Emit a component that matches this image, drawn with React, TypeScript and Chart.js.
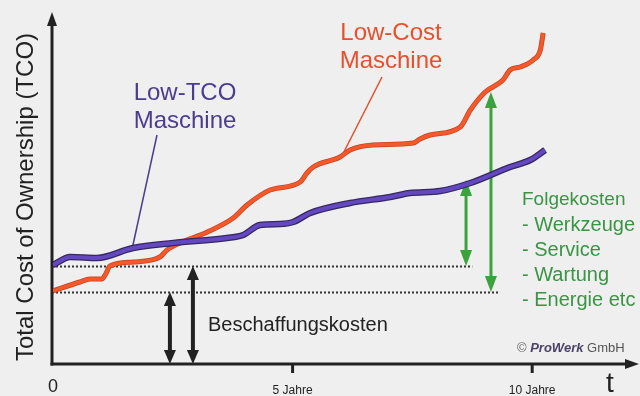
import React, { useEffect, useRef } from "react";
import { Chart, registerables } from "chart.js";

Chart.register(...registerables);

// Years (x) and Total Cost of Ownership (arbitrary units, y)
const lowTcoYears = [0, 0.36, 0.92, 1.67, 2.51, 3.63, 3.97, 4.32, 4.74, 5.01, 5.37, 6.2, 7.04, 7.45, 8.08, 8.71, 9.54, 9.96, 10.27];
const lowTcoValues = [100, 108, 107, 117, 122, 127, 130, 140, 141, 143, 152, 162, 168, 172, 174, 182, 198, 205, 215];

const lowCostYears = [0, 0.56, 0.77, 1.02, 1.1, 1.19, 1.67, 2.23, 2.38, 2.65, 3.22, 3.76, 4.05, 4.53, 5.16, 5.3, 5.43, 5.99, 6.2, 6.68, 7.52, 7.66, 7.87, 8.5, 8.71, 9.02, 9.39, 9.54, 9.75, 10.02, 10.17, 10.23];
const lowCostValues = [74, 83, 86, 86, 91, 99, 103, 108, 115, 122, 133, 147, 160, 175, 183, 192, 198, 208, 215, 220, 222, 226, 230, 238, 255, 273, 285, 295, 298, 305, 315, 332];

// Acquisition cost levels and annotation positions
const acquisitionLowTco = 99;
const acquisitionLowCost = 73;
const blackArrowYears = [2.44, 2.92];
const greenArrowYears = [8.62, 9.14];
const greenArrowTops = [185, 273];
const dottedEndYears = [8.75, 9.33];

const xTickValues = [0, 5, 10];
const xTickLabels = ["0", "5 Jahre", "10 Jahre"];
const folgeLines = ["- Werkzeuge", "- Service", "- Wartung", "- Energie etc"];

const FONT = "'Liberation Sans', Arial, sans-serif";
const PURPLE = "#6448c2";
const PURPLE_DARK = "#35275f";
const PURPLE_TEXT = "#4c3c8e";
const ORANGE = "#f25a2b";
const ORANGE_DARK = "#c9421f";
const ORANGE_TEXT = "#e6502c";
const GREEN = "#3aa33c";
const GREEN_TEXT = "#3a9444";
const INK = "#222222";

function toPoints(xs: number[], ys: number[]) {
  return xs.map((x, i) => ({ x, y: ys[i] }));
}

function arrowHead(ctx: CanvasRenderingContext2D, x: number, tipY: number, dir: number, w: number, h: number, color: string) {
  ctx.fillStyle = color;
  ctx.beginPath();
  ctx.moveTo(x, tipY);
  ctx.lineTo(x - w / 2, tipY + dir * h);
  ctx.lineTo(x + w / 2, tipY + dir * h);
  ctx.closePath();
  ctx.fill();
}

function doubleArrow(ctx: CanvasRenderingContext2D, x: number, yTop: number, yBot: number, color: string, lw: number, hw: number, hh: number) {
  ctx.strokeStyle = color;
  ctx.lineWidth = lw;
  ctx.beginPath();
  ctx.moveTo(x, yTop + hh - 1);
  ctx.lineTo(x, yBot - hh + 1);
  ctx.stroke();
  arrowHead(ctx, x, yTop, 1, hw, hh, color);
  arrowHead(ctx, x, yBot, -1, hw, hh, color);
}

const decorPlugin = {
  id: "decor",
  beforeDraw(chart: any) {
    const { ctx, width, height } = chart;
    ctx.save();
    ctx.fillStyle = "#efefef";
    ctx.fillRect(0, 0, width, height);
    ctx.restore();
  },
  beforeDatasetsDraw(chart: any) {
    const { ctx } = chart;
    const xs = chart.scales.x;
    const ys = chart.scales.y;
    const x0 = xs.getPixelForValue(0) - 1;
    const yBase = ys.getPixelForValue(0) - 1;
    ctx.save();

    // dotted acquisition lines
    ctx.strokeStyle = "#333";
    ctx.lineWidth = 2;
    ctx.setLineDash([2, 2]);
    [acquisitionLowTco, acquisitionLowCost].forEach((lvl, i) => {
      const y = Math.round(ys.getPixelForValue(lvl)) + 0.5;
      ctx.beginPath();
      ctx.moveTo(x0, y);
      ctx.lineTo(xs.getPixelForValue(dottedEndYears[i]), y);
      ctx.stroke();
    });
    ctx.setLineDash([]);

    // leader lines
    ctx.lineWidth = 1.5;
    ctx.strokeStyle = PURPLE_TEXT;
    ctx.beginPath();
    ctx.moveTo(157, 135);
    ctx.lineTo(xs.getPixelForValue(1.66), ys.getPixelForValue(118));
    ctx.stroke();
    ctx.strokeStyle = ORANGE_TEXT;
    ctx.beginPath();
    ctx.moveTo(382, 77);
    ctx.lineTo(xs.getPixelForValue(6.05), ys.getPixelForValue(211));
    ctx.stroke();

    // black double arrows (Beschaffungskosten)
    doubleArrow(ctx, xs.getPixelForValue(blackArrowYears[0]), ys.getPixelForValue(acquisitionLowCost), yBase, INK, 4, 12, 14);
    doubleArrow(ctx, xs.getPixelForValue(blackArrowYears[1]), ys.getPixelForValue(acquisitionLowTco), yBase, INK, 4, 12, 14);

    // green double arrows (Folgekosten)
    doubleArrow(ctx, xs.getPixelForValue(greenArrowYears[0]), ys.getPixelForValue(greenArrowTops[0]), ys.getPixelForValue(acquisitionLowTco), GREEN, 3, 12, 16);
    doubleArrow(ctx, xs.getPixelForValue(greenArrowYears[1]), ys.getPixelForValue(greenArrowTops[1]), ys.getPixelForValue(acquisitionLowCost), GREEN, 3, 12, 16);

    // axes
    ctx.strokeStyle = INK;
    ctx.lineWidth = 3;
    ctx.beginPath();
    ctx.moveTo(x0, yBase + 1.5);
    ctx.lineTo(x0, 22);
    ctx.stroke();
    arrowHead(ctx, x0, 12, 1, 10, 14, INK);
    ctx.beginPath();
    ctx.moveTo(x0 - 1.5, yBase);
    ctx.lineTo(628, yBase);
    ctx.stroke();
    ctx.fillStyle = INK;
    ctx.beginPath();
    ctx.moveTo(639, yBase);
    ctx.lineTo(625, yBase - 5);
    ctx.lineTo(625, yBase + 5);
    ctx.closePath();
    ctx.fill();

    // ticks and tick labels
    ctx.textAlign = "center";
    ctx.textBaseline = "middle";
    xTickValues.forEach((v, i) => {
      const px = xs.getPixelForValue(v);
      if (v !== 0) {
        ctx.beginPath();
        ctx.moveTo(px, yBase);
        ctx.lineTo(px, yBase + 9);
        ctx.stroke();
        ctx.font = `12px ${FONT}`;
        ctx.fillText(xTickLabels[i], px, 391);
      } else {
        ctx.font = `18px ${FONT}`;
        ctx.fillText(xTickLabels[i], px, 387);
      }
    });
    ctx.font = `28px ${FONT}`;
    ctx.fillText("t", 610, 384);

    // y-axis title
    ctx.save();
    ctx.translate(26, 197);
    ctx.rotate(-Math.PI / 2);
    ctx.font = `24px ${FONT}`;
    ctx.fillStyle = INK;
    ctx.fillText("Total Cost of Ownership (TCO)", 0, 0);
    ctx.restore();

    // series labels
    ctx.textBaseline = "alphabetic";
    ctx.font = `24px ${FONT}`;
    ctx.fillStyle = PURPLE_TEXT;
    ctx.fillText("Low-TCO", 185, 100);
    ctx.fillText("Maschine", 185, 128);
    ctx.fillStyle = ORANGE_TEXT;
    ctx.fillText("Low-Cost", 391, 40);
    ctx.fillText("Maschine", 391, 68);

    // Beschaffungskosten
    ctx.textAlign = "left";
    ctx.textBaseline = "middle";
    ctx.fillStyle = INK;
    ctx.font = `20px ${FONT}`;
    ctx.fillText("Beschaffungskosten", 208, 325);

    // Folgekosten
    ctx.fillStyle = GREEN_TEXT;
    ctx.font = `19px ${FONT}`;
    ctx.fillText("Folgekosten", 522, 200);
    ctx.font = `20px ${FONT}`;
    folgeLines.forEach((t, i) => ctx.fillText(t, 522, 225 + i * 25));

    // copyright
    ctx.font = `13px ${FONT}`;
    ctx.fillStyle = "#666";
    let cx = 517;
    ctx.fillText("© ", cx, 348);
    cx += ctx.measureText("© ").width;
    ctx.font = `italic bold 13px ${FONT}`;
    ctx.fillStyle = "#4a4266";
    ctx.fillText("ProWerk", cx, 348);
    cx += ctx.measureText("ProWerk ").width;
    ctx.font = `13px ${FONT}`;
    ctx.fillStyle = "#555";
    ctx.fillText("GmbH", cx, 348);

    ctx.restore();
  },
};

export default function App() {
  const ref = useRef<HTMLCanvasElement | null>(null);
  useEffect(() => {
    if (!ref.current) return;
    const lowTco = toPoints(lowTcoYears, lowTcoValues);
    const lowCost = toPoints(lowCostYears, lowCostValues);
    const common = { pointRadius: 0, cubicInterpolationMode: "monotone" as const, fill: false };
    // Chart.js draws the first dataset on top, so the coloured strokes come before their outlines
    const chart = new Chart(ref.current, {
      type: "line",
      data: {
        datasets: [
          { label: "Low-TCO Maschine", data: lowTco, borderColor: PURPLE, borderWidth: 4, ...common },
          { label: "Low-TCO outline", data: lowTco, borderColor: PURPLE_DARK, borderWidth: 6.5, ...common },
          { label: "Low-Cost Maschine", data: lowCost, borderColor: ORANGE, borderWidth: 3.5, ...common },
          { label: "Low-Cost outline", data: lowCost, borderColor: ORANGE_DARK, borderWidth: 5, ...common },
        ],
      },
      options: {
        responsive: false,
        animation: false,
        devicePixelRatio: 1,
        layout: { padding: { left: 53, right: 12, top: 15, bottom: 31 } },
        plugins: { legend: { display: false }, tooltip: { enabled: false } },
        scales: {
          x: { type: "linear", min: 0, max: 12, display: false },
          y: { type: "linear", min: 0, max: 350, display: false },
        },
      },
      plugins: [decorPlugin],
    });
    return () => chart.destroy();
  }, []);
  return (
    <div style={{ position: "fixed", left: 0, top: 0, width: 640, height: 396 }}>
      <canvas ref={ref} width={640} height={396} style={{ display: "block" }} />
    </div>
  );
}
